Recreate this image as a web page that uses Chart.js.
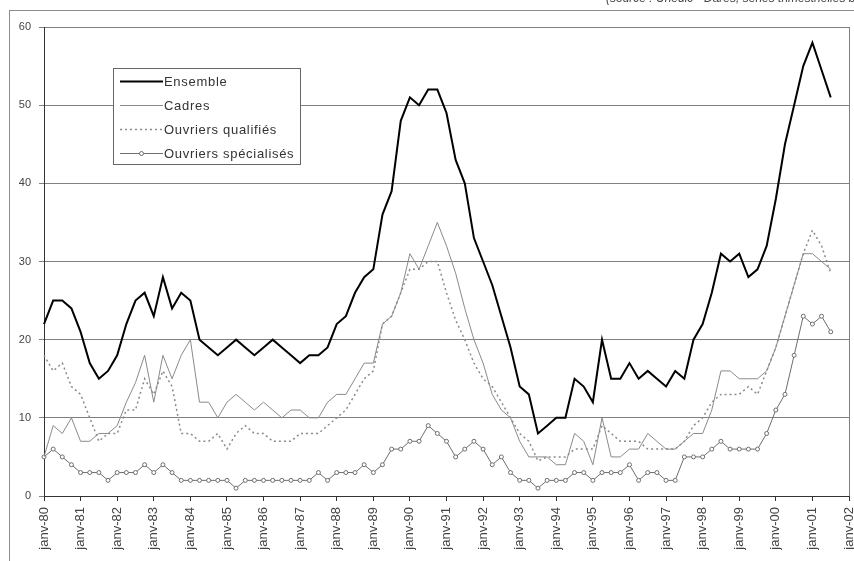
<!DOCTYPE html>
<html>
<head>
<meta charset="utf-8">
<script src="https://cdn.jsdelivr.net/npm/chart.js@4.4.0/dist/chart.umd.min.js"></script>
<style>
  html, body { margin:0; padding:0; background:#fff; }
  #chart { display:block; }
</style>
</head>
<body>
<canvas id="chart" width="854" height="561"></canvas>
<script>
// trimestres de janv-80 à janv-02, une étiquette par an
let years = ["80","81","82","83","84","85","86","87","88","89","90","91","92","93","94","95","96","97","98","99","00","01","02"];
let months = ["janv","avr","juil","oct"];

let ensemble = [22,25,25,24, 21,17,15,16, 18,22,25,26, 23,28,24,26, 25,20,19,18,
    19,20,19,18, 19,20,19,18, 17,18,18,19, 22,23,26,28, 29,36,39,48,
    51,50,52,52, 49,43,40,33, 30,27,23,19, 14,13,8,9, 10,10,15,14,
    12,20,15,15, 17,15,16,15, 14,16,15,20, 22,26,31,30, 31,28,29,32,
    38,45,50,55, 58,54.5,51];
let cadres = [5,9,8,10, 7,7,8,8, 9,12,14.5,18, 12,18,15,18, 20,12,12,10,
    12,13,12,11, 12,11,10,11, 11,10,10,12, 13,13,15,17, 17,22,23,26,
    31,29,32,35, 32,28.5,24,20, 17,13,11,10, 7,5,5,5, 4,4,8,7,
    4,10,5,5, 6,6,8,7, 6,6,7,8, 8,11,16,16, 15,15,15,16,
    19,23,27,31, 31,30,29];
let qualifies = [18,16,17,14, 13,10,7,8, 8,11,11,15, 13,16,14,8, 8,7,7,8,
    6,8,9,8, 8,7,7,7, 8,8,8,9, 10,11,13,15, 16,22,23,26,
    29,29,30,30, 26,22.5,20,17, 15,14,12,10, 8,7,4.5,5, 5,5,6,6,
    6,9,8,7, 7,7,6,6, 6,6,7,9, 10,12,13,13, 13,14,13,16,
    19,23,27,31, 34,32,28.5];
let specialises = [5,6,5,4, 3,3,3,2, 3,3,3,4, 3,4,3,2, 2,2,2,2,
    2,1,2,2, 2,2,2,2, 2,2,3,2, 3,3,3,4, 3,4,6,6,
    7,7,9,8, 7,5,6,7, 6,4,5,3, 2,2,1,2, 2,2,3,3,
    2,3,3,3, 4,2,3,3, 2,2,5,5, 5,6,7,6, 6,6,6,8,
    11,13,18,23, 22,23,21];

let labels = [];
for (let y = 0; y < years.length; y++) {
    for (let m = 0; m < months.length; m++) {
        if (y == years.length - 1 && m > 0) break;
        labels.push(months[m] + "-" + years[y]);
    }
}

let font = "'Liberation Sans', Arial, sans-serif";

// cadre gris, source en haut, bord droit du tracé
let decor = {
    id: "decor",
    beforeDraw(chart) {
        let c = chart.ctx;
        c.save();
        c.fillStyle = "#fff";
        c.fillRect(0, 0, chart.width, chart.height);
        c.strokeStyle = "#8c8c8c";
        c.lineWidth = 1;
        c.strokeRect(9.5, 10.5, 870, 600);
        c.fillStyle = "#444";
        c.font = "italic 12px " + font;
        c.textBaseline = "alphabetic";
        c.fillText("(source : Unédic - Dares, séries trimestrielles brutes, France entière)", 606, 2);
        c.restore();
    },
    beforeDatasetsDraw(chart) {
        let a = chart.chartArea;
        let c = chart.ctx;
        c.save();
        c.strokeStyle = "#808080";
        c.lineWidth = 1;
        c.beginPath();
        c.moveTo(Math.round(a.right) + 0.5, a.top);
        c.lineTo(Math.round(a.right) + 0.5, a.bottom);
        c.stroke();
        c.restore();
    }
};

// légende encadrée dans le tracé
let legendBox = {
    id: "legendBox",
    afterDatasetsDraw(chart) {
        let c = chart.ctx;
        c.save();
        c.fillStyle = "#fff";
        c.fillRect(113.5, 68.5, 187, 96);
        c.strokeStyle = "#666";
        c.lineWidth = 1;
        c.strokeRect(113.5, 68.5, 187, 96);
        chart.data.datasets.forEach(function(ds, i){
            let y = 81 + i * 24;
            c.strokeStyle = ds.borderColor;
            c.lineWidth = ds.borderWidth;
            c.setLineDash(ds.borderDash || []);
            c.beginPath();
            c.moveTo(120, y + 0.5);
            c.lineTo(163, y + 0.5);
            c.stroke();
            c.setLineDash([]);
            if (ds.pointRadius > 0) {
                c.fillStyle = "#fff";
                c.beginPath();
                c.arc(141.5, y + 0.5, ds.pointRadius, 0, Math.PI * 2);
                c.fill();
                c.stroke();
            }
            c.fillStyle = "#333";
            c.font = "13px " + font;
            c.letterSpacing = "0.7px";
            c.textBaseline = "middle";
            c.fillText(ds.label, 164, y + 1);
            c.letterSpacing = "0px";
        });
        c.restore();
    }
};

let ctx = document.getElementById("chart");
let chart = new Chart(ctx, {
    type: "line",
    plugins: [decor, legendBox],
    data: {
        labels: labels,
        datasets: [
            {
                label: "Ensemble",
                data: ensemble,
                borderColor: "#000",
                borderWidth: 2,
                pointRadius: 0,
                tension: 0
            },
            {
                label: "Cadres",
                data: cadres,
                borderColor: "#8a8a8a",
                borderWidth: 1,
                pointRadius: 0,
                tension: 0
            },
            {
                label: "Ouvriers qualifiés",
                data: qualifies,
                borderColor: "#8a8a8a",
                borderWidth: 1.5,
                borderDash: [2, 3],
                pointRadius: 0,
                tension: 0
            },
            {
                label: "Ouvriers spécialisés",
                data: specialises,
                borderColor: "#6e6e6e",
                borderWidth: 1,
                pointRadius: 2,
                pointBackgroundColor: "#fff",
                pointBorderColor: "#6e6e6e",
                pointBorderWidth: 1,
                tension: 0
            }
        ]
    },
    options: {
        responsive: false,
        animation: false,
        layout: { padding: { left: 10, right: 5, top: 27, bottom: 0 } },
        plugins: {
            legend: { display: false },
            tooltip: { enabled: false }
        },
        scales: {
            x: {
                offset: false,
                afterFit: function(s){ s.height = 65; s.paddingLeft = 0; s.paddingRight = 0; },
                grid: {
                    drawOnChartArea: false,
                    tickLength: 5,
                    color: "#333",
                    tickColor: function(c){ return c.index % 4 == 0 ? "#333" : "rgba(0,0,0,0)"; }
                },
                border: { color: "#333", width: 1 },
                ticks: {
                    autoSkip: false,
                    minRotation: 90,
                    maxRotation: 90,
                    padding: 6,
                    color: "#444",
                    font: { family: font, size: 13 },
                    callback: function(v, i){ return i % 4 == 0 ? labels[i] : ""; }
                }
            },
            y: {
                min: 0,
                max: 60,
                afterFit: function(s){ s.width = 34; s.paddingTop = 0; s.paddingBottom = 0; },
                grid: { color: "#808080", tickLength: 5, tickColor: "#808080" },
                border: { color: "#333", width: 1 },
                ticks: {
                    stepSize: 10,
                    padding: 8,
                    color: "#444",
                    font: { family: font, size: 11 }
                }
            }
        }
    }
});
</script>
</body>
</html>
